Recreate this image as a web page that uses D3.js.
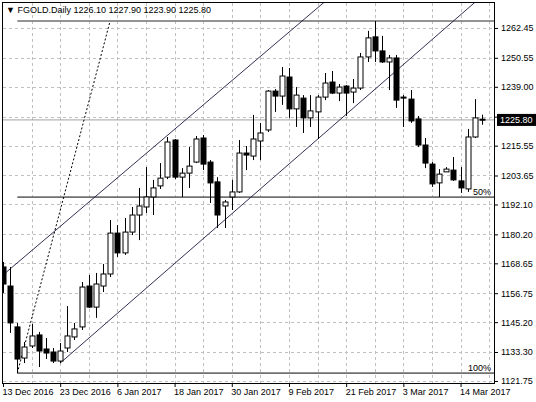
<!DOCTYPE html>
<html>
<head>
<meta charset="utf-8">
<script src="https://cdn.jsdelivr.net/npm/d3@7"></script>
<style>
  body { margin: 0; background: #fff; }
  text { font-family: "Liberation Sans", Arial, sans-serif; font-size: 9px; fill: #000; }
</style>
</head>
<body>
<div id="chart"></div>
<script>
// daily candles, 13 Dec 2016 .. 15 Mar 2017
const opens  = [1167.2,1159.6,1143.3,1130.9,1135.7,1140.1,1134.5,1133.3,1129.7,1134.9,1139.3,1143.3,1159.6,1151.2,1159.6,1164.4,1180.7,1172.8,1181.1,1187.9,1191.1,1195.1,1199.5,1203.0,1217.8,1203.0,1204.6,1209.0,1218.6,1209.0,1201.1,1191.5,1195.1,1197.1,1212.6,1211.4,1217.4,1221.8,1237.3,1235.3,1242.9,1230.2,1234.5,1226.6,1229.0,1234.9,1240.9,1236.5,1239.3,1236.9,1238.5,1250.9,1258.9,1253.3,1248.9,1250.5,1234.9,1234.1,1226.2,1215.8,1208.2,1200.7,1205.1,1205.8,1201.5,1198.3,1219.0,1226.1]
const highs  = [1169.2,1167.2,1144.9,1137.3,1144.5,1141.3,1138.9,1134.9,1136.9,1151.6,1144.9,1161.2,1164.0,1164.8,1168.4,1185.9,1183.9,1186.7,1191.1,1198.7,1207.0,1201.9,1208.6,1219.0,1218.2,1206.6,1215.0,1219.4,1219.8,1209.8,1203.0,1193.9,1201.9,1217.8,1215.4,1227.8,1224.6,1237.7,1238.1,1246.9,1246.5,1238.9,1235.7,1235.7,1235.7,1244.5,1245.3,1240.1,1239.7,1242.1,1252.5,1261.3,1265.2,1259.3,1251.7,1251.7,1235.7,1237.7,1227.4,1218.6,1209.0,1206.2,1207.0,1211.0,1207.0,1222.2,1234.1,1227.9]
const lows   = [1156.8,1140.9,1124.9,1128.9,1134.9,1127.3,1130.5,1128.9,1128.9,1133.3,1138.1,1142.1,1150.8,1146.9,1157.2,1163.2,1171.2,1172.0,1179.9,1177.9,1188.7,1187.9,1198.3,1202.2,1202.2,1195.1,1198.7,1208.6,1205.8,1192.7,1182.7,1182.7,1189.9,1196.7,1205.8,1209.8,1209.8,1221.0,1229.0,1231.8,1226.6,1223.0,1220.6,1223.0,1218.2,1233.7,1236.1,1233.3,1227.4,1232.5,1237.7,1248.9,1248.9,1248.5,1237.7,1230.6,1223.0,1224.6,1215.0,1206.6,1199.1,1195.1,1205.1,1201.5,1196.7,1197.1,1218.6,1223.9]
const closes = [1160.4,1144.9,1130.5,1135.3,1139.7,1133.7,1132.9,1129.7,1133.7,1139.7,1142.5,1159.2,1151.2,1160.4,1164.4,1180.7,1172.8,1181.1,1187.9,1191.5,1195.1,1198.7,1202.6,1217.0,1203.0,1204.6,1207.4,1218.2,1208.2,1200.7,1187.9,1193.1,1197.1,1212.6,1211.8,1218.2,1220.6,1237.3,1235.3,1243.3,1230.2,1235.7,1226.6,1229.4,1234.9,1240.5,1236.5,1238.9,1236.5,1238.5,1250.9,1258.5,1253.3,1248.9,1250.5,1233.7,1234.8,1225.4,1215.8,1208.6,1200.3,1204.2,1206.2,1201.9,1198.7,1219.0,1226.6,1225.8]

const dateLabels = ["13 Dec 2016","23 Dec 2016","6 Jan 2017","18 Jan 2017","30 Jan 2017","9 Feb 2017","21 Feb 2017","3 Mar 2017","14 Mar 2017"]
const priceTicks = [1262.45,1250.55,1239.00,1227.10,1215.55,1203.65,1192.10,1180.20,1168.65,1156.75,1145.20,1133.30,1121.75]
const lastPrice = 1225.80
const fibHigh = 1265.2, fibLow = 1124.9
// channel lines as [index, price] pairs
const channelLower = [[8, 1128.9], [65.9, 1272.4]]
const channelUpper = [[0, 1164.0], [44.8, 1272.4]]
const fibTrend = [[2, 1124.9], [14.98, 1265.2]]

const width = 536, height = 402
const pLeft = 3, pRight = 494, pTop = 3, pBottom = 383

const svg = d3.select("#chart").append("svg").attr("width", width).attr("height", height)

const x = d3.scaleLinear().domain([0, opens.length - 1]).range([3, 482])
const y = d3.scaleLinear().domain([1120.95, 1272.4]).range([pBottom, pTop])

svg.append("defs").append("clipPath").attr("id", "plot")
  .append("rect").attr("x", pLeft).attr("y", pTop).attr("width", pRight - pLeft).attr("height", pBottom - pTop)

const g = svg.append("g").attr("clip-path", "url(#plot)")

// grid
priceTicks.forEach(v => {
  g.append("line").attr("x1", pLeft).attr("x2", pRight).attr("y1", Math.round(y(v)) + 0.5).attr("y2", Math.round(y(v)) + 0.5)
    .attr("stroke", "#c0c0c0").attr("stroke-dasharray", "3,3")
})
for (let i = 4; i < 72; i += 4) {
  const xx = Math.round(x(i)) + 0.5
  g.append("line").attr("x1", xx).attr("x2", xx).attr("y1", pTop).attr("y2", pBottom)
    .attr("stroke", "#c0c0c0").attr("stroke-dasharray", "3,3")
}

// bid line
g.append("line").attr("x1", pLeft).attr("x2", pRight).attr("y1", y(lastPrice)).attr("y2", y(lastPrice))
  .attr("stroke", "#a0a0a0")

// fibonacci levels
const fx = x(2)
;[fibHigh, (fibHigh + fibLow) / 2, fibLow].forEach(v => {
  g.append("line").attr("x1", fx).attr("x2", pRight).attr("y1", y(v)).attr("y2", y(v))
    .attr("stroke", "#707070").attr("stroke-width", 1.6)
})
g.append("text").attr("x", 491).attr("y", y((fibHigh + fibLow) / 2) - 2).attr("text-anchor", "end").attr("fill", "#333").text("50%")
g.append("text").attr("x", 491).attr("y", y(fibLow) - 2).attr("text-anchor", "end").attr("fill", "#333").text("100%")

g.append("line")
  .attr("x1", x(fibTrend[0][0])).attr("y1", y(fibTrend[0][1]))
  .attr("x2", x(fibTrend[1][0])).attr("y2", y(fibTrend[1][1]))
  .attr("stroke", "#000").attr("stroke-dasharray", "2,2")

// channel
function extend(p, toX) {
  const s = (p[1][1] - p[0][1]) / (p[1][0] - p[0][0])
  return [toX, p[0][1] + s * (toX - p[0][0])]
}
;[channelLower, channelUpper].forEach(p => {
  const a = p === channelUpper ? extend(p, -1) : p[0]
  const b = extend(p, 70)
  g.append("line").attr("x1", x(a[0])).attr("y1", y(a[1])).attr("x2", x(b[0])).attr("y2", y(b[1]))
    .attr("stroke", "#1a1a40").attr("stroke-width", 0.9)
})

// candles
const idx = d3.range(opens.length)
const bw = 5
g.selectAll(".wick").data(idx).enter().append("line")
  .attr("x1", i => Math.round(x(i)) + 0.5).attr("x2", i => Math.round(x(i)) + 0.5)
  .attr("y1", i => y(highs[i])).attr("y2", i => y(lows[i]))
  .attr("stroke", "#000")
g.selectAll(".body").data(idx).enter().append("rect")
  .attr("x", i => Math.round(x(i)) - bw / 2 + 0.5)
  .attr("y", i => y(Math.max(opens[i], closes[i])))
  .attr("width", bw)
  .attr("height", i => Math.max(1, Math.abs(y(opens[i]) - y(closes[i]))))
  .attr("fill", i => closes[i] >= opens[i] ? "#fff" : "#000")
  .attr("stroke", "#000")

// frame
svg.append("rect").attr("x", pLeft - 0.5).attr("y", pTop - 0.5).attr("width", pRight - pLeft + 1).attr("height", pBottom - pTop + 1)
  .attr("fill", "none").attr("stroke", "#000")

// right axis (the 1227.10 label sits under the price tag)
const axisR = svg.append("g").attr("transform", `translate(${pRight},0)`)
  .call(d3.axisRight(y).tickValues(priceTicks).tickFormat(d => Math.abs(d - lastPrice) < 3 ? "" : d3.format(".2f")(d)).tickSize(4).tickPadding(3))
axisR.select(".domain").remove()
axisR.selectAll("text").style("font-family", "Liberation Sans, Arial, sans-serif").style("font-size", "9px")

// bottom axis
const xTickIdx = dateLabels.map((d, k) => k * 8)
const axisB = svg.append("g").attr("transform", `translate(0,${pBottom})`)
  .call(d3.axisBottom(x).tickValues(xTickIdx).tickFormat((d, k) => dateLabels[k]).tickSize(4).tickPadding(2))
axisB.select(".domain").remove()
axisB.selectAll("text").attr("text-anchor", "start").attr("dx", -1)
  .style("font-family", "Liberation Sans, Arial, sans-serif").style("font-size", "9px")

// last price tag
svg.append("rect").attr("x", pRight + 3).attr("y", y(lastPrice) - 6).attr("width", 39).attr("height", 12).attr("fill", "#000")
svg.append("text").attr("x", pRight + 6).attr("y", y(lastPrice) + 3.5).style("fill", "#fff").text(lastPrice.toFixed(2))

// title
svg.append("text").attr("x", 6).attr("y", 13).text("▼ FGOLD.Daily  1226.10 1227.90 1223.90 1225.80")
</script>
</body>
</html>
